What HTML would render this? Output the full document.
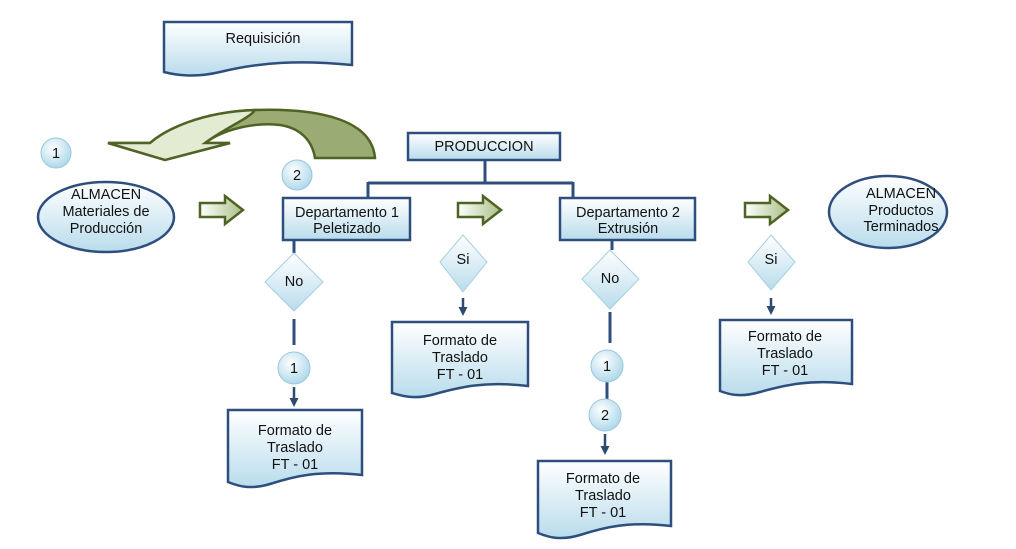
<!DOCTYPE html>
<html><head><meta charset="utf-8"><style>
html,body{margin:0;padding:0;background:#fff;width:1016px;height:549px;overflow:hidden}
text{font-family:"Liberation Sans",sans-serif;font-size:14.5px;fill:#111;text-anchor:middle}
</style></head><body>
<svg width="1016" height="549" viewBox="0 0 1016 549" xmlns="http://www.w3.org/2000/svg">
<defs>
<linearGradient id="g" x1="0" y1="0" x2="0" y2="1"><stop offset="0" stop-color="#ffffff"/><stop offset="1" stop-color="#b9dcec"/></linearGradient>
<linearGradient id="ga" x1="0" y1="0" x2="1" y2="0"><stop offset="0" stop-color="#ffffff"/><stop offset="1" stop-color="#aabf88"/></linearGradient>
<radialGradient id="gc" cx="0.4" cy="0.35" r="0.7"><stop offset="0" stop-color="#ffffff"/><stop offset="1" stop-color="#a9d6ea"/></radialGradient>
<marker id="ar" markerUnits="userSpaceOnUse" markerWidth="9" markerHeight="9" refX="4" refY="4.5" orient="auto"><path d="M0,0 L9,4.5 L0,9 z" fill="#2e4a6e"/></marker>
</defs>
<g stroke="#2e4f7e" stroke-width="2.5" fill="url(#g)">
<path d="M164,22 H352 V65 C300,60 260,62 220,72 C195,78 175,75 164,72 Z"/>
<rect x="408" y="133" width="152" height="27"/>
<rect x="283" y="198" width="127" height="42"/>
<rect x="560" y="198" width="135" height="42"/>
<ellipse cx="106" cy="217" rx="68" ry="35"/>
<ellipse cx="888" cy="212" rx="59" ry="36"/>
<path d="M228,410 H362 V475 C320,470 295,476 270,484 C250,490 238,486 228,482 Z"/>
<path d="M392,322 H528 V386 C485,381 460,387 435,394 C415,400 402,396 392,393 Z"/>
<path d="M720,320 H852 V384 C810,379 785,385 760,392 C740,398 728,394 720,391 Z"/>
<path d="M538,461 H671 V526 C630,521 605,527 580,535 C560,541 548,537 538,533 Z"/>
</g>
<g stroke="#2e4f7e" stroke-width="3" fill="none">
<path d="M485,160 V183 M368,183 H573 M368,182 V198 M573,182 V198"/>
<path d="M294,240 V253 M294,319 V345"/>
<path d="M612,240 V250 M610,312 V343 M607,382 V400"/>
</g>
<g stroke="#2e4a6e" stroke-width="2.5" marker-end="url(#ar)">
<line x1="294" y1="387" x2="294" y2="402"/>
<line x1="463" y1="298" x2="463" y2="311"/>
<line x1="771" y1="298" x2="771" y2="310"/>
<line x1="605" y1="434" x2="605" y2="450"/>
</g>
<g stroke="#a6cfe0" stroke-width="1" fill="url(#g)">
<path d="M294,253 L323,282 L294,311 L265,282 Z"/>
<path d="M463,235 L487,262 L463,292 L440,262 Z"/>
<path d="M610,250 L639,279 L610,309 L582,279 Z"/>
<path d="M771,235 L795,262 L771,290 L748,262 Z"/>
</g>
<g stroke="#9cc6da" stroke-width="1" fill="url(#gc)">
<circle cx="56" cy="153" r="15"/>
<circle cx="297" cy="175" r="15"/>
<circle cx="294" cy="368" r="16"/>
<circle cx="607" cy="366" r="16"/>
<circle cx="605" cy="415" r="16"/>
</g>
<g stroke="#4f6424" stroke-width="2.5" fill="url(#ga)">
<path d="M200,203 H225 V196 L243,210 L225,224 V217 H200 Z"/>
<path d="M458,203 H483 V196 L501,210 L483,224 V217 H458 Z"/>
<path d="M745,203 H770 V196 L788,210 L770,224 V217 H745 Z"/>
</g>
<path d="M375,158 C372,120 320,108 255,110 C200,112 165,130 150,143 L108,143 L165,160 L230,143 L205,143 C225,128 258,122 280,125 C300,128 312,140 315,158 Z" fill="#9aab73" stroke="#4f6424" stroke-width="2.5"/>
<path d="M255,110 C200,112 165,130 150,143 L108,143 L165,160 L230,143 L205,143 C225,128 250,118 255,110 Z" fill="#e3ebd3" stroke="#4f6424" stroke-width="2.5"/>
<text x="263" y="43">Requisición</text>
<text x="484" y="151">PRODUCCION</text>
<text x="56" y="158">1</text>
<text x="297" y="180">2</text>
<text x="106" y="199">ALMACEN</text>
<text x="106" y="216">Materiales de</text>
<text x="106" y="233">Producción</text>
<text x="347" y="217">Departamento 1</text>
<text x="347" y="233">Peletizado</text>
<text x="628" y="217">Departamento 2</text>
<text x="628" y="233">Extrusión</text>
<text x="901" y="198">ALMACEN</text>
<text x="901" y="215">Productos</text>
<text x="901" y="231">Terminados</text>
<text x="294" y="286">No</text>
<text x="463" y="264">Si</text>
<text x="610" y="283">No</text>
<text x="771" y="264">Si</text>
<text x="294" y="373">1</text>
<text x="607" y="371">1</text>
<text x="605" y="420">2</text>
<text x="295" y="435">Formato de</text><text x="295" y="452">Traslado</text><text x="295" y="469">FT - 01</text>
<text x="460" y="345">Formato de</text><text x="460" y="362">Traslado</text><text x="460" y="379">FT - 01</text>
<text x="785" y="341">Formato de</text><text x="785" y="358">Traslado</text><text x="785" y="375">FT - 01</text>
<text x="603" y="483">Formato de</text><text x="603" y="500">Traslado</text><text x="603" y="517">FT - 01</text>
</svg>
</body></html>
